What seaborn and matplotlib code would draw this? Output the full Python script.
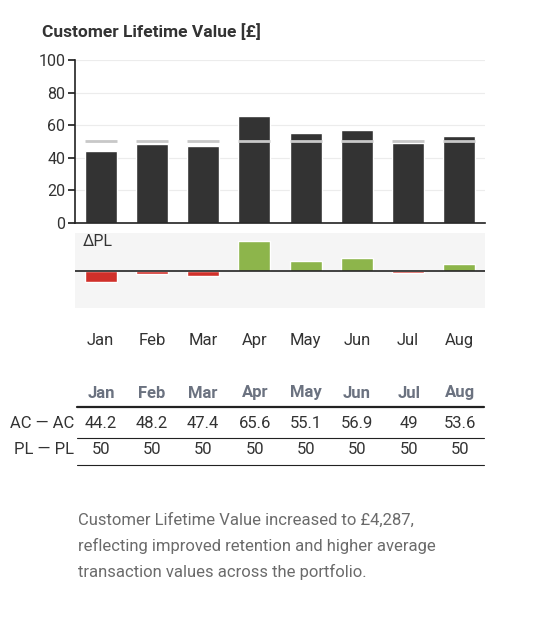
import numpy as np
import pandas as pd
import matplotlib
matplotlib.use('Agg')
import matplotlib.pyplot as plt
import seaborn as sns

months = ['Jan', 'Feb', 'Mar', 'Apr', 'May', 'Jun', 'Jul', 'Aug']
ac = [44.2, 48.2, 47.4, 65.6, 55.1, 56.9, 49, 53.6]
pl = [50, 50, 50, 50, 50, 50, 50, 50]
ac_labels = ['44.2', '48.2', '47.4', '65.6', '55.1', '56.9', '49', '53.6']
pl_labels = ['50'] * 8

sns.set_theme(style='white')
plt.rcParams['font.family'] = ['Roboto', 'DejaVu Sans']

df = pd.DataFrame({'month': months, 'ac': ac, 'pl': pl})
df['delta'] = df['ac'] - df['pl']

fig = plt.figure(figsize=(5.54, 6.20), dpi=100)
W, H = 554, 620

def fx(x):
    return x / W

def fy(y):
    return 1 - y / H

# main chart
ax = fig.add_axes([fx(75), fy(223), fx(410), (223 - 60) / H])
sns.barplot(data=df, x='month', y='ac', color='#333333', width=0.62, ax=ax, saturation=1)
ax.hlines(df['pl'], np.arange(8) - 0.31, np.arange(8) + 0.31, color='#c8c8c8', lw=2, zorder=5)
ax.set_ylim(0, 100)
ax.set_xlim(-0.5, 7.5)
ax.set_yticks([0, 20, 40, 60, 80, 100])
ax.yaxis.grid(True, color='#ececec', lw=0.8)
ax.set_axisbelow(True)
ax.set_xlabel('')
ax.set_ylabel('')
ax.set_xticks([])
for s in ['top', 'right']:
    ax.spines[s].set_visible(False)
for s in ['left', 'bottom']:
    ax.spines[s].set_color('#222222')
    ax.spines[s].set_linewidth(1.2)
ax.tick_params(axis='y', left=True, length=5, color='#222222', labelsize=11.5, labelcolor='#333333', pad=2)

fig.text(fx(42), fy(32), 'Customer Lifetime Value [£]', fontsize=12.5, fontweight='bold',
         color='#333333', va='center')

# delta chart
ax2 = fig.add_axes([fx(75), fy(308), fx(410), (308 - 233) / H])
ax2.set_facecolor('#f5f5f5')
colors = ['#8db54b' if d >= 0 else '#d0302a' for d in df['delta']]
sns.barplot(data=df, x='month', y='delta', hue='month', palette=colors, legend=False,
            width=0.62, ax=ax2, saturation=1)
ax2.axhline(0, color='#222222', lw=1.2)
ax2.set_ylim(-19, 19.5)
ax2.set_xlim(-0.5, 7.5)
ax2.set_yticks([])
ax2.set_xlabel('')
ax2.set_ylabel('')
for s in ax2.spines.values():
    s.set_visible(False)
ax2.tick_params(axis='x', bottom=False, labelsize=12, labelcolor='#333333', pad=12)
ax2.text(0.02, 0.88, 'ΔPL', transform=ax2.transAxes, fontsize=11.5, color='#333333', va='center')

# table
xs = [101, 152, 203, 255, 306, 357, 409, 460]
for x, m in zip(xs, months):
    fig.text(fx(x), fy(393), m, ha='center', va='center', fontsize=12, fontweight='bold', color='#6b7280')
for x, a, p in zip(xs, ac_labels, pl_labels):
    fig.text(fx(x), fy(423), a, ha='center', va='center', fontsize=12, color='#333333')
    fig.text(fx(x), fy(450), p, ha='center', va='center', fontsize=12, color='#333333')
fig.text(fx(74), fy(423), 'AC — AC', ha='right', va='center', fontsize=12, color='#333333')
fig.text(fx(74), fy(450), 'PL — PL', ha='right', va='center', fontsize=12, color='#333333')
for y, lw in [(407, 1.6), (438, 0.8), (465, 0.8)]:
    fig.add_artist(plt.Line2D([fx(77), fx(484)], [fy(y), fy(y)], color='#222222', lw=lw))

# note
note = ['Customer Lifetime Value increased to £4,287,',
        'reflecting improved retention and higher average',
        'transaction values across the portfolio.']
for i, line in enumerate(note):
    fig.text(fx(78), fy(520 + 26 * i), line, fontsize=12, color='#6b6b6b', va='center')

fig.savefig('out.png', dpi=100)
